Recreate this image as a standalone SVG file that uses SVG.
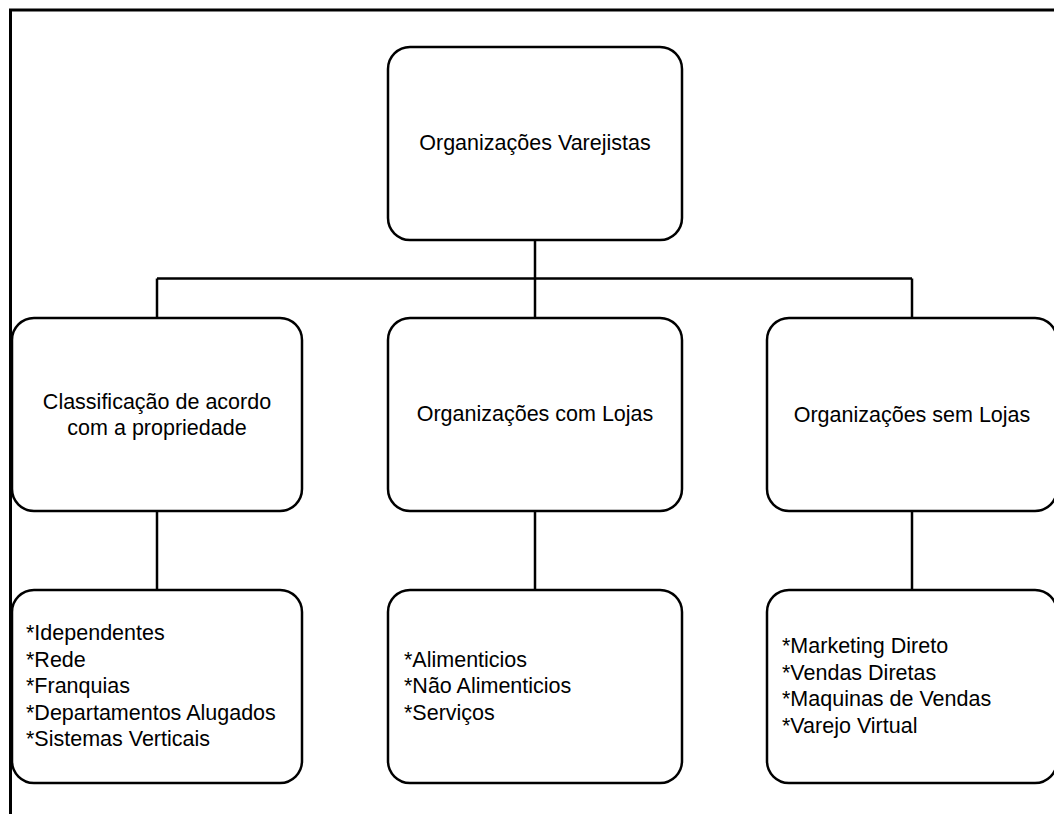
<svg xmlns="http://www.w3.org/2000/svg" width="1054" height="814" viewBox="0 0 1054 814">
<style>
.box{fill:#fff;stroke:#000;stroke-width:2.5}
.ln{fill:none;stroke:#000;stroke-width:2.5}
text{font-family:"Liberation Sans",Arial,sans-serif;font-size:21.5px;fill:#000}
.c{text-anchor:middle}
</style>
<rect width="1054" height="814" fill="#fff"/>
<path d="M10.5,814 V10 H1054" fill="none" stroke="#000" stroke-width="3"/>
<g id="connectors">
<path class="ln" d="M535,240 V318"/>
<path class="ln" d="M157,278.5 H912"/>
<path class="ln" d="M157,278.5 V318"/>
<path class="ln" d="M912,278.5 V318"/>
<path class="ln" d="M157,511 V590"/>
<path class="ln" d="M535,511 V590"/>
<path class="ln" d="M912,511 V590"/>
</g>
<g id="root">
<rect class="box" x="388" y="47" width="294" height="193" rx="22"/>
<text class="c" x="535" y="150">Organizações Varejistas</text>
</g>
<g id="classificacao">
<rect class="box" x="12" y="318" width="290" height="193" rx="22"/>
<text class="c" x="157" y="409">Classificação de acordo</text>
<text class="c" x="157" y="435">com a propriedade</text>
</g>
<g id="com-lojas">
<rect class="box" x="388" y="318" width="294" height="193" rx="22"/>
<text class="c" x="535" y="421">Organizações com Lojas</text>
</g>
<g id="sem-lojas">
<rect class="box" x="767" y="318" width="290" height="193" rx="22"/>
<text class="c" x="912" y="422">Organizações sem Lojas</text>
</g>
<g id="propriedade-lista">
<rect class="box" x="12" y="590" width="290" height="193" rx="22"/>
<text x="26" y="640">*Idependentes</text>
<text x="26" y="667">*Rede</text>
<text x="26" y="693">*Franquias</text>
<text x="26" y="720">*Departamentos Alugados</text>
<text x="26" y="746">*Sistemas Verticais</text>
</g>
<g id="lojas-lista">
<rect class="box" x="388" y="590" width="294" height="193" rx="22"/>
<text x="404" y="667">*Alimenticios</text>
<text x="404" y="693">*Não Alimenticios</text>
<text x="404" y="720">*Serviços</text>
</g>
<g id="sem-lojas-lista">
<rect class="box" x="767" y="590" width="290" height="193" rx="22"/>
<text x="782" y="653">*Marketing Direto</text>
<text x="782" y="680">*Vendas Diretas</text>
<text x="782" y="706">*Maquinas de Vendas</text>
<text x="782" y="733">*Varejo Virtual</text>
</g>
</svg>
